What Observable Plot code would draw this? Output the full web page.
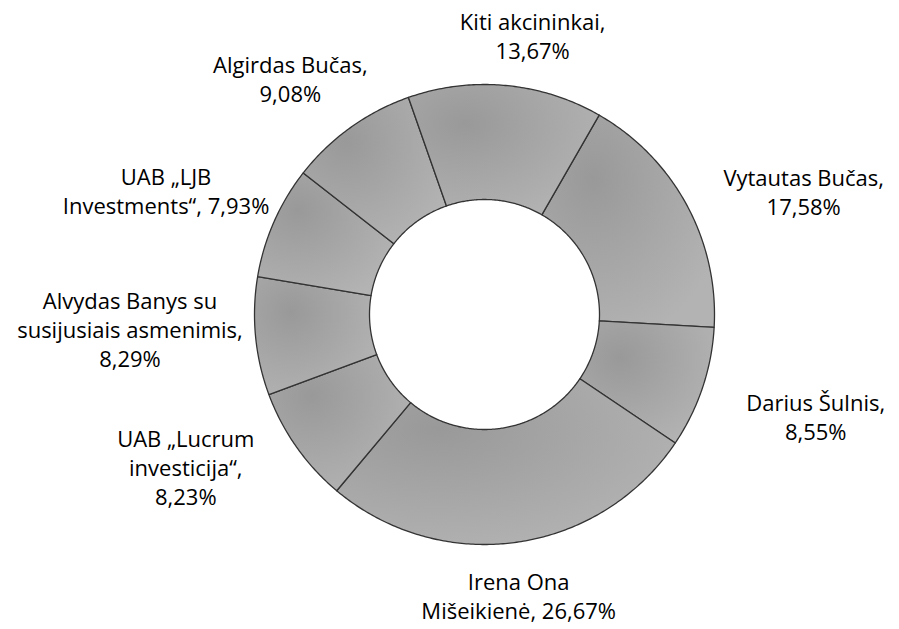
<!DOCTYPE html>
<html>
<head>
<meta charset="utf-8">
<script src="https://cdn.jsdelivr.net/npm/d3@7"></script>
<script src="https://cdn.jsdelivr.net/npm/@observablehq/plot@0.6"></script>
<style>
  html, body { margin: 0; padding: 0; background: #fff; }
  #chart svg { display: block; }
</style>
</head>
<body>
<div id="chart"></div>
<script>
// ---- data ----
const owners = [
  "Vytautas Bučas",
  "Darius Šulnis",
  "Irena Ona Mišeikienė",
  "UAB „Lucrum investicija“",
  "Alvydas Banys su susijusiais asmenimis",
  "UAB „LJB Investments“",
  "Algirdas Bučas",
  "Kiti akcininkai"
];
const shares = [17.58, 8.55, 26.67, 8.23, 8.29, 7.93, 9.08, 13.67];
const labelLines = [
  ["Vytautas Bučas,", "{v}"],
  ["Darius Šulnis,", "{v}"],
  ["Irena Ona", "Mišeikienė, {v}"],
  ["UAB „Lucrum", "investicija“,", "{v}"],
  ["Alvydas Banys su", "susijusiais asmenimis,", "{v}"],
  ["UAB „LJB", "Investments“, {v}"],
  ["Algirdas Bučas,", "{v}"],
  ["Kiti akcininkai,", "{v}"]
];

// ---- layout ----
const W = 899, H = 629;
const cx = 484, cy = 314, R = 230;      // pixel centre & outer radius
const innerRatio = 0.5;
const startDeg = 29.9;                   // where the first slice begins (clockwise from 12 o'clock)
const labelRx = 355 / R, labelRy = 282 / R;
const labelTurn = 2.5 * Math.PI / 180;

const fmt = v => d3.format(".2f")(v).replace(".", ",") + "%";

const pie = d3.pie().sort(null).value(d => d)
  .startAngle(startDeg * Math.PI / 180)
  .endAngle(startDeg * Math.PI / 180 + 2 * Math.PI);
const arcs = pie(shares);

// polygon outline of each ring slice, in unit coordinates (outer radius = 1)
const ring = [];
arcs.forEach((a, i) => {
  const n = Math.max(8, Math.ceil((a.endAngle - a.startAngle) / 0.01));
  for (let k = 0; k <= n; k++) {
    const t = a.startAngle + (a.endAngle - a.startAngle) * k / n;
    ring.push({name: owners[i], x: Math.sin(t), y: Math.cos(t)});
  }
  for (let k = n; k >= 0; k--) {
    const t = a.startAngle + (a.endAngle - a.startAngle) * k / n;
    ring.push({name: owners[i], x: innerRatio * Math.sin(t), y: innerRatio * Math.cos(t)});
  }
});

const labels = arcs.map((a, i) => {
  const m = (a.startAngle + a.endAngle) / 2 + labelTurn;
  return {
    text: labelLines[i].map(s => s.replace("{v}", fmt(shares[i]))).join("\n"),
    x: labelRx * Math.sin(m),
    y: labelRy * Math.cos(m)
  };
});

const gradientDefs = () => {
  const defs = d3.create("svg:defs");
  const g = defs.append("radialGradient")
    .attr("id", "sliceGrad")
    .attr("cx", 0.3).attr("cy", 0.3).attr("r", 0.8);
  g.append("stop").attr("offset", "0%").attr("stop-color", "#999999");
  g.append("stop").attr("offset", "100%").attr("stop-color", "#b3b3b3");
  return defs.node();
};

const chart = Plot.plot({
  width: W,
  height: H,
  margin: 0,
  x: {domain: [-cx / R, (W - cx) / R], axis: null},
  y: {domain: [-(H - cy) / R, cy / R], axis: null},
  style: {fontFamily: "'Open Sans', sans-serif", background: "#fff"},
  marks: [
    gradientDefs,
    Plot.line(ring, {
      x: "x", y: "y", z: "name",
      curve: "linear-closed",
      fill: "url(#sliceGrad)",
      stroke: "#333",
      strokeWidth: 1.3
    }),
    Plot.text(labels, {
      x: "x", y: "y", text: "text",
      fontSize: 22,
      lineHeight: 1.32,
      fill: "#000",
      textAnchor: "middle",
      lineAnchor: "middle"
    })
  ]
});
document.getElementById("chart").appendChild(chart);
</script>
</body>
</html>
